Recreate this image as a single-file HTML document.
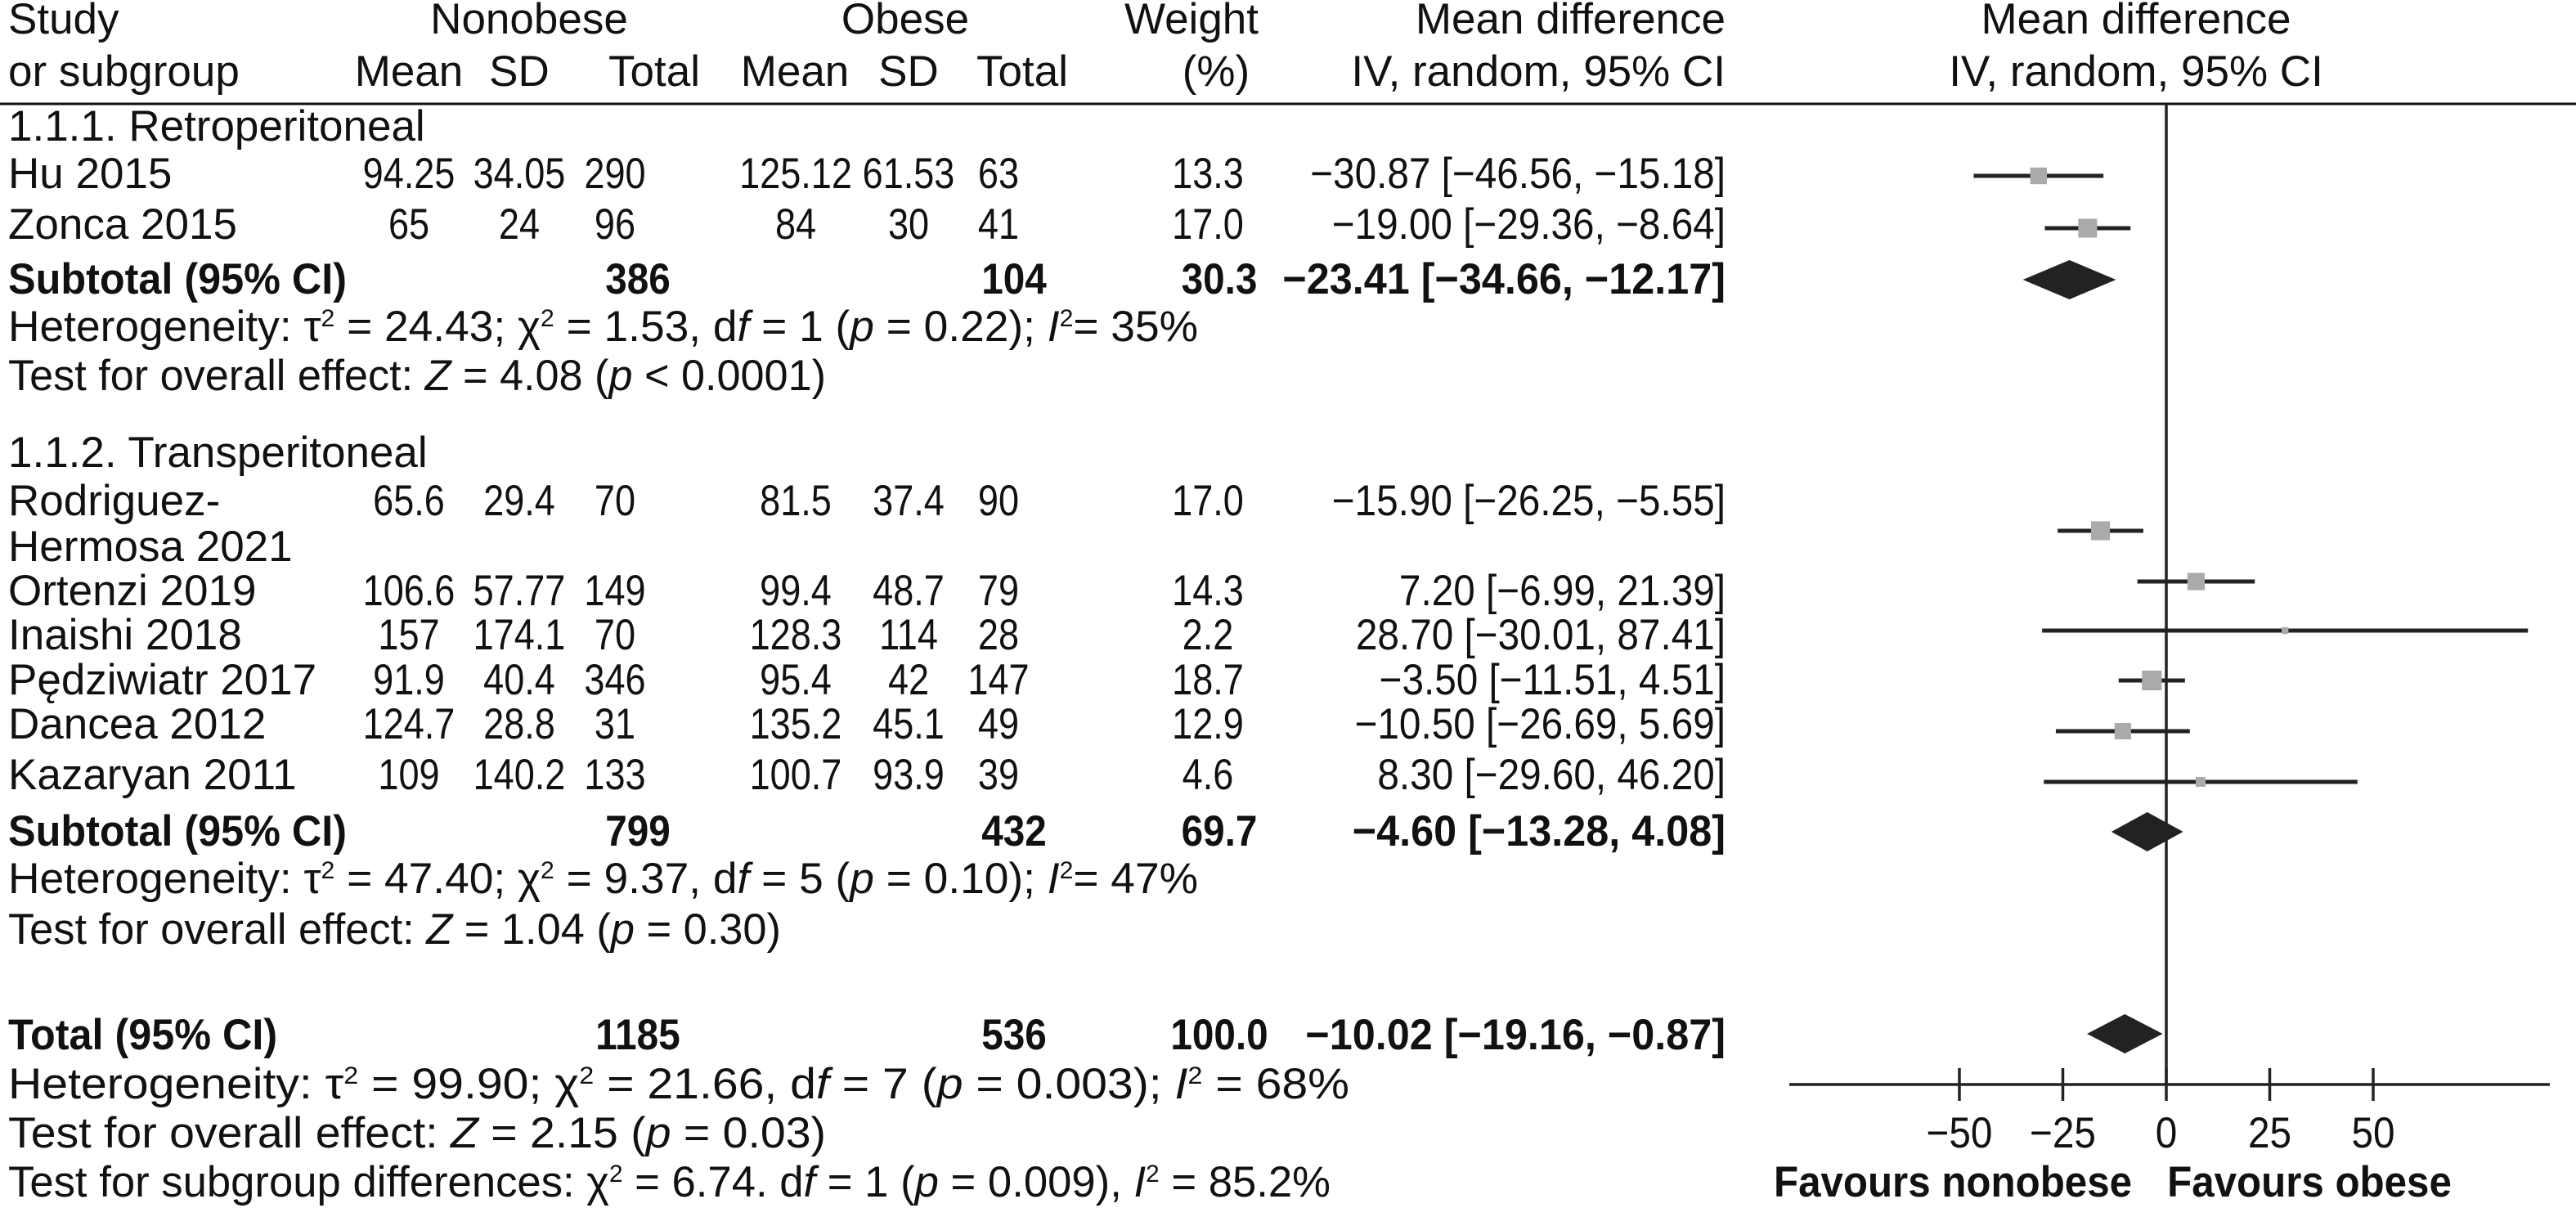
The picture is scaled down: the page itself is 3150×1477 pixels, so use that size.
<!DOCTYPE html>
<html><head><meta charset="utf-8"><style>
html,body{margin:0;padding:0;background:#fff}
svg{display:block}
text{font-family:"Liberation Sans",sans-serif;font-size:53px;fill:#111}
.b{font-weight:bold}
.i{font-style:italic}
.m{text-anchor:middle}
.e{text-anchor:end}
</style></head><body>
<svg id="fp" width="3150" height="1477" viewBox="0 0 3150 1477" xmlns="http://www.w3.org/2000/svg">
<g>
<text x="10" y="41">Study</text>
<text x="10" y="105">or subgroup</text>
<text x="647" y="41" class="m">Nonobese</text>
<text x="1107" y="41" class="m">Obese</text>
<text x="500" y="105" class="m">Mean</text>
<text x="635" y="105" class="m">SD</text>
<text x="800" y="105" class="m">Total</text>
<text x="972" y="105" class="m">Mean</text>
<text x="1111" y="105" class="m">SD</text>
<text x="1250" y="105" class="m">Total</text>
<text x="1457" y="41" class="m">Weight</text>
<text x="1487" y="105" class="m">(%)</text>
<text x="2110" y="41" class="e">Mean difference</text>
<text x="2110" y="105" class="e">IV, random, 95% CI</text>
<text x="2612" y="41" class="m">Mean difference</text>
<text x="2612" y="105" class="m">IV, random, 95% CI</text>
</g>
<line x1="0" y1="127" x2="3150" y2="127" stroke="#111" stroke-width="3"/>
<g id="tbl">
<text x="10" y="172">1.1.1. Retroperitoneal</text>
<text x="10" y="571">1.1.2. Transperitoneal</text>
<text x="10" y="686">Hermosa 2021</text>
<text x="10" y="417" textLength="1455" lengthAdjust="spacingAndGlyphs">Heterogeneity: τ<tspan dy="-18" font-size="30">2</tspan><tspan dy="18"> = 24.43; χ</tspan><tspan dy="-18" font-size="30">2</tspan><tspan dy="18"> = 1.53, d</tspan><tspan class="i">f</tspan> = 1 (<tspan class="i">p</tspan> = 0.22); <tspan class="i">I</tspan><tspan dy="-18" font-size="30">2</tspan><tspan dy="18">= 35%</tspan></text>
<text x="10" y="477" textLength="1000" lengthAdjust="spacingAndGlyphs">Test for overall effect: <tspan class="i">Z</tspan> = 4.08 (<tspan class="i">p</tspan> &lt; 0.0001)</text>
<text x="10" y="1092" textLength="1455" lengthAdjust="spacingAndGlyphs">Heterogeneity: τ<tspan dy="-18" font-size="30">2</tspan><tspan dy="18"> = 47.40; χ</tspan><tspan dy="-18" font-size="30">2</tspan><tspan dy="18"> = 9.37, d</tspan><tspan class="i">f</tspan> = 5 (<tspan class="i">p</tspan> = 0.10); <tspan class="i">I</tspan><tspan dy="-18" font-size="30">2</tspan><tspan dy="18">= 47%</tspan></text>
<text x="10" y="1154" textLength="945" lengthAdjust="spacingAndGlyphs">Test for overall effect: <tspan class="i">Z</tspan> = 1.04 (<tspan class="i">p</tspan> = 0.30)</text>
<text x="10" y="1343" textLength="1640" lengthAdjust="spacingAndGlyphs">Heterogeneity: τ<tspan dy="-18" font-size="30">2</tspan><tspan dy="18"> = 99.90; χ</tspan><tspan dy="-18" font-size="30">2</tspan><tspan dy="18"> = 21.66, d</tspan><tspan class="i">f</tspan> = 7 (<tspan class="i">p</tspan> = 0.003); <tspan class="i">I</tspan><tspan dy="-18" font-size="30">2</tspan><tspan dy="18"> = 68%</tspan></text>
<text x="10" y="1403" textLength="1000" lengthAdjust="spacingAndGlyphs">Test for overall effect: <tspan class="i">Z</tspan> = 2.15 (<tspan class="i">p</tspan> = 0.03)</text>
<text x="10" y="1463" textLength="1617" lengthAdjust="spacingAndGlyphs">Test for subgroup differences: χ<tspan dy="-18" font-size="30">2</tspan><tspan dy="18"> = 6.74. d</tspan><tspan class="i">f</tspan> = 1 (<tspan class="i">p</tspan> = 0.009), <tspan class="i">I</tspan><tspan dy="-18" font-size="30">2</tspan><tspan dy="18"> = 85.2%</tspan></text>
</g>
<g id="plot"></g>
<script>
const studies=["Hu 2015","Zonca 2015","Rodriguez-","Ortenzi 2019","Inaishi 2018","Pędziwiatr 2017","Dancea 2012","Kazaryan 2011"];
const nonMean=["94.25","65","65.6","106.6","157","91.9","124.7","109"];
const nonSD=["34.05","24","29.4","57.77","174.1","40.4","28.8","140.2"];
const nonTotal=["290","96","70","149","70","346","31","133"];
const obMean=["125.12","84","81.5","99.4","128.3","95.4","135.2","100.7"];
const obSD=["61.53","30","37.4","48.7","114","42","45.1","93.9"];
const obTotal=["63","41","90","79","28","147","49","39"];
const weights=[13.3,17.0,17.0,14.3,2.2,18.7,12.9,4.6];
const md=[-30.87,-19.00,-15.90,7.20,28.70,-3.50,-10.50,8.30];
const lo=[-46.56,-29.36,-26.25,-6.99,-30.01,-11.51,-26.69,-29.60];
const hi=[-15.18,-8.64,-5.55,21.39,87.41,4.51,5.69,46.20];
const subNames=["Subtotal (95% CI)","Subtotal (95% CI)","Total (95% CI)"];
const subNon=["386","799","1185"];
const subOb=["104","432","536"];
const subW=["30.3","69.7","100.0"];
const subMd=[-23.41,-4.60,-10.02];
const subLo=[-34.66,-13.28,-19.16];
const subHi=[-12.17,4.08,-0.87];
const ticks=[-50,-25,0,25,50];
const tickLabels=["−50","−25","0","25","50"];

const studyTextY=[230,292,630,740,794,849,903,965];
const studyMarkY=[215,279,649,711,771,832,894,956];
const subTextY=[359,1034,1283];
const subMarkY=[342,1017,1264];
const NS="http://www.w3.org/2000/svg";
const x=v=>2649+v*5.06;
const fmt=v=>(v<0?"−":"")+Math.abs(v).toFixed(2);
const tbl=document.getElementById('tbl'), plot=document.getElementById('plot');
function mk(tag,attrs,parent,txt){const e=document.createElementNS(NS,tag);for(const k in attrs)e.setAttribute(k,attrs[k]);if(txt!=null)e.textContent=txt;parent.appendChild(e);return e;}
function squeeze(t,s){const ax=parseFloat(t.getAttribute('x'));t.setAttribute('transform',`translate(${ax},0) scale(${s},1) translate(${-ax},0)`);}

studies.forEach((s,i)=>{
  const y=studyTextY[i];
  let e;
  e=mk('text',{x:10,y:y},tbl,s);
  
  
  const cols=[[500,nonMean[i]],[635,nonSD[i]],[752,nonTotal[i]],[973,obMean[i]],[1111,obSD[i]],[1221,obTotal[i]],[1477,weights[i].toFixed(1)]];
  cols.forEach(c=>{e=mk('text',{x:c[0],y:y,class:'m'},tbl,c[1]);
    
    
    squeeze(e,0.85);});
  e=mk('text',{x:2110,y:y,class:'e'},tbl,fmt(md[i])+" ["+fmt(lo[i])+", "+fmt(hi[i])+"]");
  
  
  squeeze(e,0.9);
  const my=studyMarkY[i];
  e=mk('line',{x1:x(lo[i]),x2:x(hi[i]),y1:my,y2:my,stroke:'#222','stroke-width':5},plot);
  
  
  const sz=5.6*Math.sqrt(weights[i]);
  e=mk('rect',{x:x(md[i])-sz/2,y:my-sz/2,width:sz,height:sz,fill:'#aaa'},plot);
  
  
});
subNames.forEach((s,i)=>{
  const y=subTextY[i];let e;
  e=mk('text',{x:10,y:y,class:'b'},tbl,s);
  
  
  squeeze(e,0.95);
  [[780,subNon[i]],[1240,subOb[i]],[1491,subW[i]]].forEach(c=>{e=mk('text',{x:c[0],y:y,class:'m b'},tbl,c[1]);
    
    
    squeeze(e,0.9);});
  e=mk('text',{x:2110,y:y,class:'e b'},tbl,fmt(subMd[i])+" ["+fmt(subLo[i])+", "+fmt(subHi[i])+"]");
  
  
  squeeze(e,0.95);
  const my=subMarkY[i];
  e=mk('polygon',{points:`${x(subLo[i])},${my} ${x(subMd[i])},${my-24} ${x(subHi[i])},${my} ${x(subMd[i])},${my+24}`,fill:'#222'},plot);
  
  
});
let e;
e=mk('line',{x1:x(0),x2:x(0),y1:127,y2:1326,stroke:'#222','stroke-width':3.5},plot);


e=mk('line',{x1:2188,x2:3118,y1:1326,y2:1326,stroke:'#222','stroke-width':3.5},plot);


ticks.forEach((t,i)=>{
  let e=mk('line',{x1:x(t),x2:x(t),y1:1306,y2:1346,stroke:'#222','stroke-width':3.5},plot);
  
  
  e=mk('text',{x:x(t),y:1403,class:'m'},plot,tickLabels[i]);
  
  
  squeeze(e,0.9);
});
e=mk('text',{x:2388,y:1463,class:'m b'},plot,"Favours nonobese");


squeeze(e,0.93);
e=mk('text',{x:2824,y:1463,class:'m b'},plot,"Favours obese");


squeeze(e,0.93);
</script>
</svg>
</body></html>
